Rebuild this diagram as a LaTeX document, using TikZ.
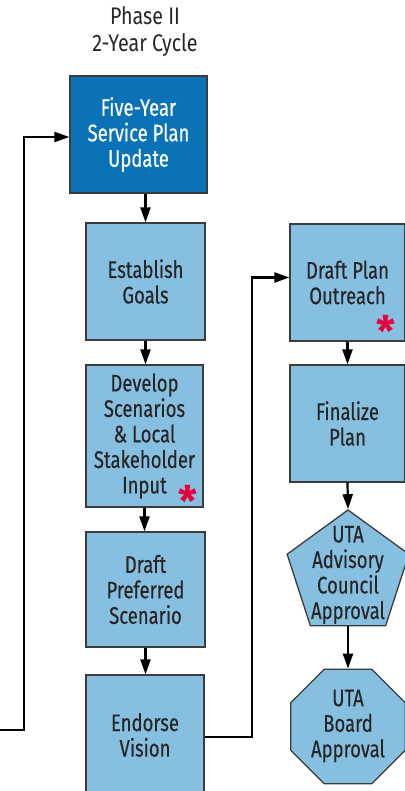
\documentclass[tikz,border=0pt]{standalone}
\usepackage{fontspec}
\setmainfont[FakeStretch=0.77,FakeBold=0.35]{Fira Sans}
\newfontfamily\starfont{Fira Sans}
\newfontfamily\titlefont[FakeStretch=0.82]{Fira Sans}
\usetikzlibrary{shapes.geometric,arrows.meta}
\definecolor{lightblue}{HTML}{86BFE0}
\definecolor{darkblue}{HTML}{0A73B7}
\definecolor{bordergrey}{HTML}{3C3C3C}
\definecolor{textgrey}{HTML}{262626}
\definecolor{starred}{HTML}{E8003C}
\newcommand{\boxfont}{\fontsize{24}{25.5}\selectfont}
\tikzset{
  box/.style={draw=bordergrey, line width=1.3pt, fill=lightblue, inner sep=0pt, align=center, font=\boxfont, text=textgrey},
  polybox/.style={draw=bordergrey, line width=1.3pt, fill=lightblue, inner sep=0pt, regular polygon},
  label text/.style={align=center, font=\boxfont, text=textgrey, inner sep=0pt},
  arr/.style={line width=2.2pt, -{Triangle[length=15pt,width=10pt]}},
  star/.style={text=starred, font=\starfont\bfseries\fontsize{42}{42}\selectfont, inner sep=0pt},
  titletext/.style={align=center, font=\titlefont\fontsize{24}{27}\selectfont, text=textgrey, inner sep=0pt}
}
\begin{document}
\begin{tikzpicture}[x=1pt,y=-1pt]
\useasboundingbox (0,0) rectangle (404,791);
\node[titletext] (ttl) at (145,31.5) {Phase II\\2-Year Cycle};
\node[box, fill=darkblue, text=white, minimum width=137pt, minimum height=117pt] (five) at (138.5,134.5) {Five-Year\\Service Plan\\Update};
\node[box, minimum width=119pt, minimum height=117pt] (est) at (145.5,281.5) {Establish\\Goals};
\node[box, minimum width=117pt, minimum height=142pt] (dev) at (144.5,436) {Develop\\Scenarios\\\& Local\\Stakeholder\\Input};
\node[box, minimum width=119pt, minimum height=115pt] (dps) at (145.5,589.5) {Draft\\Preferred\\Scenario};
\node[box, minimum width=118pt, minimum height=120pt] (endv) at (145,735) {Endorse\\Vision};
\node[box, minimum width=115pt, minimum height=117pt] (dpo) at (347.5,282.5) {Draft Plan\\Outreach};
\node[box, minimum width=115pt, minimum height=117pt] (fin) at (347.5,423.5) {Finalize\\Plan};
\node[polybox, regular polygon sides=5, minimum size=128pt] (pent) at (348,574) {};
\node[label text] (penttext) at (348,575) {UTA\\Advisory\\Council\\Approval};
\node[polybox, regular polygon sides=8, minimum size=124pt] (oct) at (348,726.5) {};
\node[label text] (octtext) at (348,726) {UTA\\Board\\Approval};
\node[star] (star1) at (187.5,500.5) {*};
\node[star] (star2) at (386,331) {*};
% connectors
\draw[arr] (five.south -| est.north) -- (est.north);
\draw[arr] (est.south) -- (est.south |- dev.north);
\draw[arr] (dev.south) -- (dev.south |- dps.north);
\draw[arr] (dps.south) -- (dps.south |- endv.north);
\draw[arr] (dpo.south) -- (dpo.south |- fin.north);
\draw[arr] (fin.south) -- (pent.north);
\draw[arr] (pent.south) -- (oct.north);
\coordinate (loopstart) at (-3,730);
\coordinate (loopcorner) at (24,730);
\draw[arr] (loopstart) -- (loopcorner) |- ([yshift=-2.5pt]five.west);
\coordinate (rcorner) at (252,737);
\draw[arr] (endv.east |- rcorner) -- (rcorner) |- ([yshift=5pt]dpo.west);
\end{tikzpicture}
\end{document}
